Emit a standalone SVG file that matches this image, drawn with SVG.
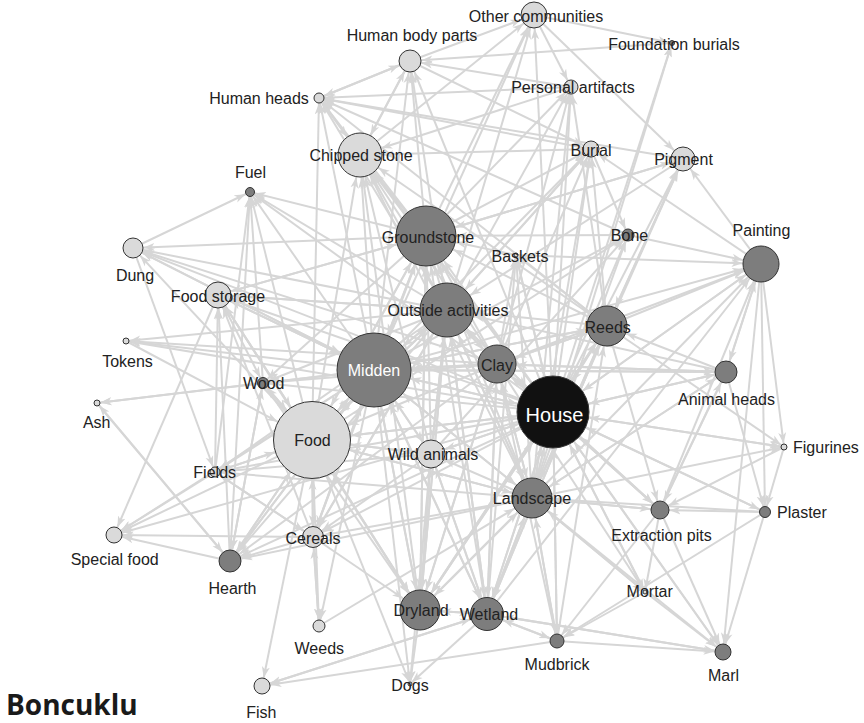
<svg xmlns="http://www.w3.org/2000/svg" width="864" height="723" viewBox="0 0 864 723">
<style>
.e line{stroke:#d6d6d6;stroke-width:2;fill:none}
.mk{fill:#d6d6d6}
.n circle{stroke:#333;stroke-width:1}
.L circle{fill:#dadada}
.D circle{fill:#7d7d7d}
.B circle{fill:#111}
text{font-family:"Liberation Sans",Arial,sans-serif;font-size:16px;fill:#222;text-anchor:middle}
.w{fill:#fff}
.st{text-anchor:start}
</style>
<defs>
<path id="ah" class="mk" d="M0,0.5L11,4.5L0,8.5L3,4.5z"/>
<marker id="tOC" markerUnits="userSpaceOnUse" markerWidth="11" markerHeight="9" refX="24.5" refY="4.5" orient="auto"><use href="#ah"/></marker>
<marker id="tHBP" markerUnits="userSpaceOnUse" markerWidth="11" markerHeight="9" refX="22.5" refY="4.5" orient="auto"><use href="#ah"/></marker>
<marker id="tHH" markerUnits="userSpaceOnUse" markerWidth="11" markerHeight="9" refX="16.5" refY="4.5" orient="auto"><use href="#ah"/></marker>
<marker id="tFB" markerUnits="userSpaceOnUse" markerWidth="11" markerHeight="9" refX="14" refY="4.5" orient="auto"><use href="#ah"/></marker>
<marker id="tPA" markerUnits="userSpaceOnUse" markerWidth="11" markerHeight="9" refX="18.5" refY="4.5" orient="auto"><use href="#ah"/></marker>
<marker id="tCS" markerUnits="userSpaceOnUse" markerWidth="11" markerHeight="9" refX="33.5" refY="4.5" orient="auto"><use href="#ah"/></marker>
<marker id="tBU" markerUnits="userSpaceOnUse" markerWidth="11" markerHeight="9" refX="19.5" refY="4.5" orient="auto"><use href="#ah"/></marker>
<marker id="tPI" markerUnits="userSpaceOnUse" markerWidth="11" markerHeight="9" refX="23.5" refY="4.5" orient="auto"><use href="#ah"/></marker>
<marker id="tFU" markerUnits="userSpaceOnUse" markerWidth="11" markerHeight="9" refX="16" refY="4.5" orient="auto"><use href="#ah"/></marker>
<marker id="tGS" markerUnits="userSpaceOnUse" markerWidth="11" markerHeight="9" refX="41.5" refY="4.5" orient="auto"><use href="#ah"/></marker>
<marker id="tBO" markerUnits="userSpaceOnUse" markerWidth="11" markerHeight="9" refX="17.5" refY="4.5" orient="auto"><use href="#ah"/></marker>
<marker id="tBA" markerUnits="userSpaceOnUse" markerWidth="11" markerHeight="9" refX="13.5" refY="4.5" orient="auto"><use href="#ah"/></marker>
<marker id="tPT" markerUnits="userSpaceOnUse" markerWidth="11" markerHeight="9" refX="29.5" refY="4.5" orient="auto"><use href="#ah"/></marker>
<marker id="tDU" markerUnits="userSpaceOnUse" markerWidth="11" markerHeight="9" refX="21.5" refY="4.5" orient="auto"><use href="#ah"/></marker>
<marker id="tFS" markerUnits="userSpaceOnUse" markerWidth="11" markerHeight="9" refX="24.5" refY="4.5" orient="auto"><use href="#ah"/></marker>
<marker id="tOA" markerUnits="userSpaceOnUse" markerWidth="11" markerHeight="9" refX="38.5" refY="4.5" orient="auto"><use href="#ah"/></marker>
<marker id="tRE" markerUnits="userSpaceOnUse" markerWidth="11" markerHeight="9" refX="31.5" refY="4.5" orient="auto"><use href="#ah"/></marker>
<marker id="tTO" markerUnits="userSpaceOnUse" markerWidth="11" markerHeight="9" refX="14.5" refY="4.5" orient="auto"><use href="#ah"/></marker>
<marker id="tMI" markerUnits="userSpaceOnUse" markerWidth="11" markerHeight="9" refX="48.5" refY="4.5" orient="auto"><use href="#ah"/></marker>
<marker id="tCL" markerUnits="userSpaceOnUse" markerWidth="11" markerHeight="9" refX="30.5" refY="4.5" orient="auto"><use href="#ah"/></marker>
<marker id="tWO" markerUnits="userSpaceOnUse" markerWidth="11" markerHeight="9" refX="17" refY="4.5" orient="auto"><use href="#ah"/></marker>
<marker id="tAH" markerUnits="userSpaceOnUse" markerWidth="11" markerHeight="9" refX="22.5" refY="4.5" orient="auto"><use href="#ah"/></marker>
<marker id="tAS" markerUnits="userSpaceOnUse" markerWidth="11" markerHeight="9" refX="14.5" refY="4.5" orient="auto"><use href="#ah"/></marker>
<marker id="tHO" markerUnits="userSpaceOnUse" markerWidth="11" markerHeight="9" refX="47.5" refY="4.5" orient="auto"><use href="#ah"/></marker>
<marker id="tFO" markerUnits="userSpaceOnUse" markerWidth="11" markerHeight="9" refX="50" refY="4.5" orient="auto"><use href="#ah"/></marker>
<marker id="tWA" markerUnits="userSpaceOnUse" markerWidth="11" markerHeight="9" refX="25.5" refY="4.5" orient="auto"><use href="#ah"/></marker>
<marker id="tFI" markerUnits="userSpaceOnUse" markerWidth="11" markerHeight="9" refX="16.5" refY="4.5" orient="auto"><use href="#ah"/></marker>
<marker id="tFG" markerUnits="userSpaceOnUse" markerWidth="11" markerHeight="9" refX="14.5" refY="4.5" orient="auto"><use href="#ah"/></marker>
<marker id="tLA" markerUnits="userSpaceOnUse" markerWidth="11" markerHeight="9" refX="31.5" refY="4.5" orient="auto"><use href="#ah"/></marker>
<marker id="tEP" markerUnits="userSpaceOnUse" markerWidth="11" markerHeight="9" refX="20.5" refY="4.5" orient="auto"><use href="#ah"/></marker>
<marker id="tPL" markerUnits="userSpaceOnUse" markerWidth="11" markerHeight="9" refX="17" refY="4.5" orient="auto"><use href="#ah"/></marker>
<marker id="tSF" markerUnits="userSpaceOnUse" markerWidth="11" markerHeight="9" refX="19.5" refY="4.5" orient="auto"><use href="#ah"/></marker>
<marker id="tCE" markerUnits="userSpaceOnUse" markerWidth="11" markerHeight="9" refX="22" refY="4.5" orient="auto"><use href="#ah"/></marker>
<marker id="tHE" markerUnits="userSpaceOnUse" markerWidth="11" markerHeight="9" refX="22.5" refY="4.5" orient="auto"><use href="#ah"/></marker>
<marker id="tMO" markerUnits="userSpaceOnUse" markerWidth="11" markerHeight="9" refX="13.5" refY="4.5" orient="auto"><use href="#ah"/></marker>
<marker id="tDR" markerUnits="userSpaceOnUse" markerWidth="11" markerHeight="9" refX="31.5" refY="4.5" orient="auto"><use href="#ah"/></marker>
<marker id="tWE" markerUnits="userSpaceOnUse" markerWidth="11" markerHeight="9" refX="28" refY="4.5" orient="auto"><use href="#ah"/></marker>
<marker id="tWD" markerUnits="userSpaceOnUse" markerWidth="11" markerHeight="9" refX="17.5" refY="4.5" orient="auto"><use href="#ah"/></marker>
<marker id="tMU" markerUnits="userSpaceOnUse" markerWidth="11" markerHeight="9" refX="18.5" refY="4.5" orient="auto"><use href="#ah"/></marker>
<marker id="tMA" markerUnits="userSpaceOnUse" markerWidth="11" markerHeight="9" refX="19.5" refY="4.5" orient="auto"><use href="#ah"/></marker>
<marker id="tDO" markerUnits="userSpaceOnUse" markerWidth="11" markerHeight="9" refX="13.5" refY="4.5" orient="auto"><use href="#ah"/></marker>
<marker id="tFH" markerUnits="userSpaceOnUse" markerWidth="11" markerHeight="9" refX="19.5" refY="4.5" orient="auto"><use href="#ah"/></marker>
</defs>
<rect width="864" height="723" fill="#fff"/>
<g id="connectors" class="e">
<g marker-end="url(#tOC)"><line x1="410" y1="61" x2="534" y2="15"/><line x1="360" y1="155" x2="534" y2="15"/><line x1="426" y1="236" x2="534" y2="15"/><line x1="447" y1="310" x2="534" y2="15"/><line x1="553" y1="412" x2="534" y2="15"/><line x1="374" y1="370" x2="534" y2="15"/></g>
<g marker-end="url(#tHBP)"><line x1="319" y1="98" x2="410" y2="61"/><line x1="426" y1="236" x2="410" y2="61"/><line x1="447" y1="310" x2="410" y2="61"/><line x1="374" y1="370" x2="410" y2="61"/><line x1="553" y1="412" x2="410" y2="61"/><line x1="672" y1="43" x2="410" y2="61"/><line x1="571" y1="87" x2="410" y2="61"/><line x1="360" y1="155" x2="410" y2="61"/></g>
<g marker-end="url(#tHH)"><line x1="410" y1="61" x2="319" y2="98"/><line x1="591" y1="149" x2="319" y2="98"/><line x1="571" y1="87" x2="319" y2="98"/><line x1="628" y1="235" x2="319" y2="98"/><line x1="447" y1="310" x2="319" y2="98"/><line x1="426" y1="236" x2="319" y2="98"/><line x1="374" y1="370" x2="319" y2="98"/><line x1="312" y1="440" x2="319" y2="98"/><line x1="553" y1="412" x2="319" y2="98"/><line x1="683" y1="159" x2="319" y2="98"/><line x1="607" y1="326" x2="319" y2="98"/></g>
<g marker-end="url(#tFB)"><line x1="553" y1="412" x2="672" y2="43"/><line x1="532" y1="498" x2="672" y2="43"/><line x1="534" y1="15" x2="672" y2="43"/></g>
<g marker-end="url(#tPA)"><line x1="534" y1="15" x2="571" y2="87"/><line x1="553" y1="412" x2="571" y2="87"/><line x1="426" y1="236" x2="571" y2="87"/><line x1="607" y1="326" x2="571" y2="87"/><line x1="532" y1="498" x2="571" y2="87"/><line x1="497" y1="364" x2="571" y2="87"/><line x1="447" y1="310" x2="571" y2="87"/></g>
<g marker-end="url(#tCS)"><line x1="319" y1="98" x2="360" y2="155"/><line x1="410" y1="61" x2="360" y2="155"/><line x1="591" y1="149" x2="360" y2="155"/><line x1="426" y1="236" x2="360" y2="155"/><line x1="447" y1="310" x2="360" y2="155"/><line x1="374" y1="370" x2="360" y2="155"/><line x1="553" y1="412" x2="360" y2="155"/><line x1="497" y1="364" x2="360" y2="155"/><line x1="431" y1="454" x2="360" y2="155"/><line x1="312" y1="440" x2="360" y2="155"/><line x1="532" y1="498" x2="360" y2="155"/><line x1="607" y1="326" x2="360" y2="155"/><line x1="420" y1="610" x2="360" y2="155"/><line x1="571" y1="87" x2="360" y2="155"/></g>
<g marker-end="url(#tBU)"><line x1="410" y1="61" x2="591" y2="149"/><line x1="553" y1="412" x2="591" y2="149"/><line x1="426" y1="236" x2="591" y2="149"/><line x1="447" y1="310" x2="591" y2="149"/><line x1="374" y1="370" x2="591" y2="149"/><line x1="761" y1="264" x2="591" y2="149"/><line x1="532" y1="498" x2="591" y2="149"/><line x1="497" y1="364" x2="591" y2="149"/><line x1="607" y1="326" x2="591" y2="149"/></g>
<g marker-end="url(#tPI)"><line x1="534" y1="15" x2="683" y2="159"/><line x1="761" y1="264" x2="683" y2="159"/><line x1="426" y1="236" x2="683" y2="159"/><line x1="553" y1="412" x2="683" y2="159"/><line x1="532" y1="498" x2="683" y2="159"/><line x1="607" y1="326" x2="683" y2="159"/></g>
<g marker-end="url(#tFU)"><line x1="133" y1="248" x2="250" y2="192"/><line x1="263" y1="383" x2="250" y2="192"/><line x1="230" y1="561" x2="250" y2="192"/><line x1="312" y1="440" x2="250" y2="192"/><line x1="374" y1="370" x2="250" y2="192"/><line x1="447" y1="310" x2="250" y2="192"/><line x1="426" y1="236" x2="250" y2="192"/><line x1="553" y1="412" x2="250" y2="192"/><line x1="215" y1="472" x2="250" y2="192"/></g>
<g marker-end="url(#tGS)"><line x1="374" y1="370" x2="426" y2="236"/><line x1="447" y1="310" x2="426" y2="236"/><line x1="553" y1="412" x2="426" y2="236"/><line x1="497" y1="364" x2="426" y2="236"/><line x1="312" y1="440" x2="426" y2="236"/><line x1="532" y1="498" x2="426" y2="236"/><line x1="516" y1="255" x2="426" y2="236"/><line x1="607" y1="326" x2="426" y2="236"/><line x1="628" y1="235" x2="426" y2="236"/><line x1="420" y1="610" x2="426" y2="236"/><line x1="431" y1="454" x2="426" y2="236"/><line x1="683" y1="159" x2="426" y2="236"/><line x1="218" y1="295" x2="426" y2="236"/><line x1="313" y1="537" x2="426" y2="236"/><line x1="487" y1="614" x2="426" y2="236"/></g>
<g marker-end="url(#tBO)"><line x1="431" y1="454" x2="628" y2="235"/><line x1="553" y1="412" x2="628" y2="235"/><line x1="532" y1="498" x2="628" y2="235"/><line x1="374" y1="370" x2="628" y2="235"/><line x1="312" y1="440" x2="628" y2="235"/><line x1="591" y1="149" x2="628" y2="235"/></g>
<g marker-end="url(#tBA)"><line x1="607" y1="326" x2="516" y2="255"/><line x1="487" y1="614" x2="516" y2="255"/><line x1="532" y1="498" x2="516" y2="255"/><line x1="553" y1="412" x2="516" y2="255"/><line x1="497" y1="364" x2="516" y2="255"/></g>
<g marker-end="url(#tPT)"><line x1="726" y1="372" x2="761" y2="264"/><line x1="553" y1="412" x2="761" y2="264"/><line x1="607" y1="326" x2="761" y2="264"/><line x1="532" y1="498" x2="761" y2="264"/><line x1="497" y1="364" x2="761" y2="264"/><line x1="660" y1="510" x2="761" y2="264"/><line x1="516" y1="255" x2="761" y2="264"/><line x1="628" y1="235" x2="761" y2="264"/><line x1="374" y1="370" x2="761" y2="264"/><line x1="487" y1="614" x2="761" y2="264"/></g>
<g marker-end="url(#tDU)"><line x1="426" y1="236" x2="133" y2="248"/><line x1="447" y1="310" x2="133" y2="248"/><line x1="374" y1="370" x2="133" y2="248"/><line x1="553" y1="412" x2="133" y2="248"/><line x1="312" y1="440" x2="133" y2="248"/><line x1="497" y1="364" x2="133" y2="248"/></g>
<g marker-end="url(#tFS)"><line x1="312" y1="440" x2="218" y2="295"/><line x1="374" y1="370" x2="218" y2="295"/><line x1="553" y1="412" x2="218" y2="295"/><line x1="313" y1="537" x2="218" y2="295"/><line x1="447" y1="310" x2="218" y2="295"/><line x1="426" y1="236" x2="218" y2="295"/><line x1="215" y1="472" x2="218" y2="295"/><line x1="230" y1="561" x2="218" y2="295"/></g>
<g marker-end="url(#tOA)"><line x1="374" y1="370" x2="447" y2="310"/><line x1="553" y1="412" x2="447" y2="310"/><line x1="497" y1="364" x2="447" y2="310"/><line x1="312" y1="440" x2="447" y2="310"/><line x1="532" y1="498" x2="447" y2="310"/><line x1="607" y1="326" x2="447" y2="310"/><line x1="431" y1="454" x2="447" y2="310"/><line x1="420" y1="610" x2="447" y2="310"/><line x1="487" y1="614" x2="447" y2="310"/><line x1="683" y1="159" x2="447" y2="310"/><line x1="726" y1="372" x2="447" y2="310"/><line x1="591" y1="149" x2="447" y2="310"/><line x1="313" y1="537" x2="447" y2="310"/><line x1="218" y1="295" x2="447" y2="310"/></g>
<g marker-end="url(#tRE)"><line x1="487" y1="614" x2="607" y2="326"/><line x1="532" y1="498" x2="607" y2="326"/><line x1="497" y1="364" x2="607" y2="326"/><line x1="726" y1="372" x2="607" y2="326"/><line x1="553" y1="412" x2="607" y2="326"/><line x1="420" y1="610" x2="607" y2="326"/><line x1="374" y1="370" x2="607" y2="326"/><line x1="683" y1="159" x2="607" y2="326"/><line x1="557" y1="641" x2="607" y2="326"/></g>
<g marker-end="url(#tTO)"><line x1="497" y1="364" x2="126" y2="341"/><line x1="374" y1="370" x2="126" y2="341"/><line x1="553" y1="412" x2="126" y2="341"/><line x1="447" y1="310" x2="126" y2="341"/></g>
<g marker-end="url(#tMI)"><line x1="312" y1="440" x2="374" y2="370"/><line x1="553" y1="412" x2="374" y2="370"/><line x1="497" y1="364" x2="374" y2="370"/><line x1="447" y1="310" x2="374" y2="370"/><line x1="532" y1="498" x2="374" y2="370"/><line x1="431" y1="454" x2="374" y2="370"/><line x1="420" y1="610" x2="374" y2="370"/><line x1="487" y1="614" x2="374" y2="370"/><line x1="426" y1="236" x2="374" y2="370"/><line x1="313" y1="537" x2="374" y2="370"/><line x1="218" y1="295" x2="374" y2="370"/><line x1="133" y1="248" x2="374" y2="370"/><line x1="230" y1="561" x2="374" y2="370"/><line x1="607" y1="326" x2="374" y2="370"/><line x1="726" y1="372" x2="374" y2="370"/></g>
<g marker-end="url(#tCL)"><line x1="532" y1="498" x2="497" y2="364"/><line x1="374" y1="370" x2="497" y2="364"/><line x1="447" y1="310" x2="497" y2="364"/><line x1="420" y1="610" x2="497" y2="364"/><line x1="487" y1="614" x2="497" y2="364"/><line x1="553" y1="412" x2="497" y2="364"/><line x1="607" y1="326" x2="497" y2="364"/><line x1="726" y1="372" x2="497" y2="364"/><line x1="660" y1="510" x2="497" y2="364"/><line x1="557" y1="641" x2="497" y2="364"/></g>
<g marker-end="url(#tWO)"><line x1="374" y1="370" x2="263" y2="383"/><line x1="312" y1="440" x2="263" y2="383"/><line x1="553" y1="412" x2="263" y2="383"/><line x1="447" y1="310" x2="263" y2="383"/><line x1="426" y1="236" x2="263" y2="383"/><line x1="230" y1="561" x2="263" y2="383"/><line x1="218" y1="295" x2="263" y2="383"/><line x1="497" y1="364" x2="263" y2="383"/></g>
<g marker-end="url(#tAH)"><line x1="761" y1="264" x2="726" y2="372"/><line x1="553" y1="412" x2="726" y2="372"/><line x1="374" y1="370" x2="726" y2="372"/><line x1="497" y1="364" x2="726" y2="372"/><line x1="532" y1="498" x2="726" y2="372"/><line x1="660" y1="510" x2="726" y2="372"/></g>
<g marker-end="url(#tAS)"><line x1="263" y1="383" x2="97" y2="403"/><line x1="374" y1="370" x2="97" y2="403"/><line x1="230" y1="561" x2="97" y2="403"/></g>
<g marker-end="url(#tHO)"><line x1="497" y1="364" x2="553" y2="412"/><line x1="532" y1="498" x2="553" y2="412"/><line x1="607" y1="326" x2="553" y2="412"/><line x1="487" y1="614" x2="553" y2="412"/><line x1="420" y1="610" x2="553" y2="412"/><line x1="447" y1="310" x2="553" y2="412"/><line x1="374" y1="370" x2="553" y2="412"/><line x1="660" y1="510" x2="553" y2="412"/><line x1="557" y1="641" x2="553" y2="412"/><line x1="645" y1="592" x2="553" y2="412"/><line x1="765" y1="512" x2="553" y2="412"/><line x1="784" y1="447" x2="553" y2="412"/><line x1="726" y1="372" x2="553" y2="412"/><line x1="761" y1="264" x2="553" y2="412"/><line x1="723" y1="652" x2="553" y2="412"/><line x1="516" y1="255" x2="553" y2="412"/><line x1="312" y1="440" x2="553" y2="412"/><line x1="431" y1="454" x2="553" y2="412"/></g>
<g marker-end="url(#tFO)"><line x1="218" y1="295" x2="312" y2="440"/><line x1="313" y1="537" x2="312" y2="440"/><line x1="215" y1="472" x2="312" y2="440"/><line x1="374" y1="370" x2="312" y2="440"/><line x1="553" y1="412" x2="312" y2="440"/><line x1="431" y1="454" x2="312" y2="440"/><line x1="230" y1="561" x2="312" y2="440"/><line x1="420" y1="610" x2="312" y2="440"/><line x1="447" y1="310" x2="312" y2="440"/><line x1="532" y1="498" x2="312" y2="440"/><line x1="126" y1="341" x2="312" y2="440"/><line x1="263" y1="383" x2="312" y2="440"/><line x1="497" y1="364" x2="312" y2="440"/><line x1="426" y1="236" x2="312" y2="440"/></g>
<g marker-end="url(#tWA)"><line x1="420" y1="610" x2="431" y2="454"/><line x1="487" y1="614" x2="431" y2="454"/><line x1="532" y1="498" x2="431" y2="454"/><line x1="553" y1="412" x2="431" y2="454"/><line x1="374" y1="370" x2="431" y2="454"/><line x1="447" y1="310" x2="431" y2="454"/><line x1="312" y1="440" x2="431" y2="454"/></g>
<g marker-end="url(#tFI)"><line x1="133" y1="248" x2="215" y2="472"/><line x1="312" y1="440" x2="215" y2="472"/><line x1="374" y1="370" x2="215" y2="472"/><line x1="553" y1="412" x2="215" y2="472"/><line x1="532" y1="498" x2="215" y2="472"/><line x1="431" y1="454" x2="215" y2="472"/><line x1="447" y1="310" x2="215" y2="472"/><line x1="313" y1="537" x2="215" y2="472"/></g>
<g marker-end="url(#tFG)"><line x1="761" y1="264" x2="784" y2="447"/><line x1="553" y1="412" x2="784" y2="447"/><line x1="607" y1="326" x2="784" y2="447"/><line x1="532" y1="498" x2="784" y2="447"/></g>
<g marker-end="url(#tLA)"><line x1="553" y1="412" x2="532" y2="498"/><line x1="420" y1="610" x2="532" y2="498"/><line x1="487" y1="614" x2="532" y2="498"/><line x1="374" y1="370" x2="532" y2="498"/><line x1="497" y1="364" x2="532" y2="498"/><line x1="447" y1="310" x2="532" y2="498"/><line x1="607" y1="326" x2="532" y2="498"/><line x1="557" y1="641" x2="532" y2="498"/><line x1="660" y1="510" x2="532" y2="498"/><line x1="319" y1="626" x2="532" y2="498"/><line x1="645" y1="592" x2="532" y2="498"/><line x1="765" y1="512" x2="532" y2="498"/><line x1="312" y1="440" x2="532" y2="498"/><line x1="726" y1="372" x2="532" y2="498"/></g>
<g marker-end="url(#tEP)"><line x1="765" y1="512" x2="660" y2="510"/><line x1="553" y1="412" x2="660" y2="510"/><line x1="784" y1="447" x2="660" y2="510"/><line x1="532" y1="498" x2="660" y2="510"/><line x1="497" y1="364" x2="660" y2="510"/><line x1="726" y1="372" x2="660" y2="510"/><line x1="607" y1="326" x2="660" y2="510"/></g>
<g marker-end="url(#tPL)"><line x1="761" y1="264" x2="765" y2="512"/><line x1="726" y1="372" x2="765" y2="512"/><line x1="784" y1="447" x2="765" y2="512"/><line x1="553" y1="412" x2="765" y2="512"/></g>
<g marker-end="url(#tSF)"><line x1="218" y1="295" x2="114" y2="535"/><line x1="230" y1="561" x2="114" y2="535"/><line x1="312" y1="440" x2="114" y2="535"/><line x1="374" y1="370" x2="114" y2="535"/><line x1="313" y1="537" x2="114" y2="535"/><line x1="215" y1="472" x2="114" y2="535"/><line x1="553" y1="412" x2="114" y2="535"/></g>
<g marker-end="url(#tCE)"><line x1="312" y1="440" x2="313" y2="537"/><line x1="319" y1="626" x2="313" y2="537"/><line x1="215" y1="472" x2="313" y2="537"/><line x1="374" y1="370" x2="313" y2="537"/><line x1="553" y1="412" x2="313" y2="537"/><line x1="532" y1="498" x2="313" y2="537"/><line x1="447" y1="310" x2="313" y2="537"/><line x1="431" y1="454" x2="313" y2="537"/></g>
<g marker-end="url(#tHE)"><line x1="312" y1="440" x2="230" y2="561"/><line x1="374" y1="370" x2="230" y2="561"/><line x1="553" y1="412" x2="230" y2="561"/><line x1="313" y1="537" x2="230" y2="561"/><line x1="263" y1="383" x2="230" y2="561"/><line x1="532" y1="498" x2="230" y2="561"/><line x1="447" y1="310" x2="230" y2="561"/><line x1="497" y1="364" x2="230" y2="561"/><line x1="97" y1="403" x2="230" y2="561"/></g>
<g marker-end="url(#tMO)"><line x1="553" y1="412" x2="645" y2="592"/><line x1="532" y1="498" x2="645" y2="592"/><line x1="660" y1="510" x2="645" y2="592"/><line x1="497" y1="364" x2="645" y2="592"/></g>
<g marker-end="url(#tDR)"><line x1="312" y1="440" x2="420" y2="610"/><line x1="374" y1="370" x2="420" y2="610"/><line x1="447" y1="310" x2="420" y2="610"/><line x1="426" y1="236" x2="420" y2="610"/><line x1="553" y1="412" x2="420" y2="610"/><line x1="532" y1="498" x2="420" y2="610"/><line x1="497" y1="364" x2="420" y2="610"/><line x1="431" y1="454" x2="420" y2="610"/><line x1="313" y1="537" x2="420" y2="610"/><line x1="218" y1="295" x2="420" y2="610"/><line x1="263" y1="383" x2="420" y2="610"/><line x1="487" y1="614" x2="420" y2="610"/><line x1="607" y1="326" x2="420" y2="610"/></g>
<g marker-end="url(#tWE)"><line x1="532" y1="498" x2="487" y2="614"/><line x1="553" y1="412" x2="487" y2="614"/><line x1="607" y1="326" x2="487" y2="614"/><line x1="497" y1="364" x2="487" y2="614"/><line x1="374" y1="370" x2="487" y2="614"/><line x1="447" y1="310" x2="487" y2="614"/><line x1="420" y1="610" x2="487" y2="614"/><line x1="557" y1="641" x2="487" y2="614"/><line x1="431" y1="454" x2="487" y2="614"/><line x1="262" y1="686" x2="487" y2="614"/><line x1="723" y1="652" x2="487" y2="614"/></g>
<g marker-end="url(#tWD)"><line x1="313" y1="537" x2="319" y2="626"/><line x1="312" y1="440" x2="319" y2="626"/><line x1="374" y1="370" x2="319" y2="626"/></g>
<g marker-end="url(#tMU)"><line x1="487" y1="614" x2="557" y2="641"/><line x1="645" y1="592" x2="557" y2="641"/><line x1="765" y1="512" x2="557" y2="641"/><line x1="553" y1="412" x2="557" y2="641"/><line x1="532" y1="498" x2="557" y2="641"/><line x1="660" y1="510" x2="557" y2="641"/></g>
<g marker-end="url(#tMA)"><line x1="660" y1="510" x2="723" y2="652"/><line x1="765" y1="512" x2="723" y2="652"/><line x1="553" y1="412" x2="723" y2="652"/><line x1="532" y1="498" x2="723" y2="652"/><line x1="645" y1="592" x2="723" y2="652"/><line x1="557" y1="641" x2="723" y2="652"/><line x1="761" y1="264" x2="723" y2="652"/><line x1="487" y1="614" x2="723" y2="652"/></g>
<g marker-end="url(#tDO)"><line x1="420" y1="610" x2="410" y2="684"/><line x1="487" y1="614" x2="410" y2="684"/><line x1="312" y1="440" x2="410" y2="684"/><line x1="374" y1="370" x2="410" y2="684"/><line x1="431" y1="454" x2="410" y2="684"/></g>
<g marker-end="url(#tFH)"><line x1="312" y1="440" x2="262" y2="686"/><line x1="487" y1="614" x2="262" y2="686"/><line x1="557" y1="641" x2="262" y2="686"/></g>
</g>
<g id="nodes">
<g id="n-other-communities" class="n L"><circle cx="534" cy="15" r="13"/><text x="536" y="21.5">Other communities</text></g>
<g id="n-human-body-parts" class="n L"><circle cx="410" cy="61" r="11"/><text x="412" y="40.5">Human body parts</text></g>
<g id="n-human-heads" class="n L"><circle cx="319" cy="98" r="5"/><text x="259" y="103.5">Human heads</text></g>
<g id="n-foundation-burials" class="n D"><circle cx="672" cy="43" r="2.5"/><text x="674" y="49.5">Foundation burials</text></g>
<g id="n-personal-artifacts" class="n L"><circle cx="571" cy="87" r="7"/><text x="573" y="93">Personal artifacts</text></g>
<g id="n-chipped-stone" class="n L"><circle cx="360" cy="155" r="22"/><text x="361" y="161">Chipped stone</text></g>
<g id="n-burial" class="n L"><circle cx="591" cy="149" r="8"/><text x="591" y="155.5">Burial</text></g>
<g id="n-pigment" class="n L"><circle cx="683" cy="159" r="12"/><text x="683.5" y="165">Pigment</text></g>
<g id="n-fuel" class="n D"><circle cx="250" cy="192" r="4.5"/><text x="250.5" y="178">Fuel</text></g>
<g id="n-groundstone" class="n D"><circle cx="426" cy="236" r="30"/><text x="428" y="243">Groundstone</text></g>
<g id="n-bone" class="n D"><circle cx="628" cy="235" r="6"/><text x="629.5" y="241">Bone</text></g>
<g id="n-baskets" class="n L"><circle cx="516" cy="255" r="2"/><text x="520" y="261.5">Baskets</text></g>
<g id="n-painting" class="n D"><circle cx="761" cy="264" r="18"/><text x="761.5" y="236">Painting</text></g>
<g id="n-dung" class="n L"><circle cx="133" cy="248" r="10"/><text x="135" y="281">Dung</text></g>
<g id="n-food-storage" class="n L"><circle cx="218" cy="295" r="13"/><text x="218" y="301.5">Food storage</text></g>
<g id="n-outside-activities" class="n D"><circle cx="447" cy="310" r="27"/><text x="448" y="316">Outside activities</text></g>
<g id="n-reeds" class="n D"><circle cx="607" cy="326" r="20"/><text x="607.7" y="332.5">Reeds</text></g>
<g id="n-tokens" class="n L"><circle cx="126" cy="341" r="3"/><text x="127.5" y="366.5">Tokens</text></g>
<g id="n-midden" class="n D"><circle cx="374" cy="370" r="37"/><text class="w" x="374" y="375.5">Midden</text></g>
<g id="n-clay" class="n D"><circle cx="497" cy="364" r="19"/><text x="497" y="370.5">Clay</text></g>
<g id="n-wood" class="n D"><circle cx="263" cy="383" r="5.5"/><text x="263.7" y="389">Wood</text></g>
<g id="n-animal-heads" class="n D"><circle cx="726" cy="372" r="11"/><text x="726.5" y="405">Animal heads</text></g>
<g id="n-ash" class="n L"><circle cx="97" cy="403" r="3"/><text x="96.7" y="428">Ash</text></g>
<g id="n-house" class="n B"><circle cx="553" cy="412" r="36"/><text class="w" x="554.5" y="421.5" style="font-size:20px">House</text></g>
<g id="n-food" class="n L"><circle cx="312" cy="440" r="38.5"/><text x="312.5" y="445.5">Food</text></g>
<g id="n-wild-animals" class="n L"><circle cx="431" cy="454" r="14"/><text x="433" y="460">Wild animals</text></g>
<g id="n-fields" class="n L"><circle cx="215" cy="472" r="5"/><text x="214.7" y="478">Fields</text></g>
<g id="n-figurines" class="n L"><circle cx="784" cy="447" r="3"/><text class="st" x="793" y="453">Figurines</text></g>
<g id="n-landscape" class="n D"><circle cx="532" cy="498" r="20"/><text x="532" y="504">Landscape</text></g>
<g id="n-extraction-pits" class="n D"><circle cx="660" cy="510" r="9"/><text x="661.5" y="541">Extraction pits</text></g>
<g id="n-plaster" class="n D"><circle cx="765" cy="512" r="5.5"/><text class="st" x="777" y="518">Plaster</text></g>
<g id="n-special-food" class="n L"><circle cx="114" cy="535" r="8"/><text x="114.7" y="565">Special food</text></g>
<g id="n-cereals" class="n L"><circle cx="313" cy="537" r="10.5"/><text x="313" y="544">Cereals</text></g>
<g id="n-hearth" class="n D"><circle cx="230" cy="561" r="11"/><text x="232.5" y="594">Hearth</text></g>
<g id="n-mortar" class="n L"><circle cx="645" cy="592" r="2"/><text x="649.7" y="596.5">Mortar</text></g>
<g id="n-dryland" class="n D"><circle cx="420" cy="610" r="20"/><text x="421" y="616">Dryland</text></g>
<g id="n-wetland" class="n D"><circle cx="487" cy="614" r="16.5"/><text x="489" y="620">Wetland</text></g>
<g id="n-weeds" class="n L"><circle cx="319" cy="626" r="6"/><text x="319.3" y="654">Weeds</text></g>
<g id="n-mudbrick" class="n D"><circle cx="557" cy="641" r="7"/><text x="557" y="670">Mudbrick</text></g>
<g id="n-marl" class="n D"><circle cx="723" cy="652" r="8"/><text x="723.5" y="681">Marl</text></g>
<g id="n-dogs" class="n L"><circle cx="410" cy="684" r="2"/><text x="410" y="691">Dogs</text></g>
<g id="n-fish" class="n L"><circle cx="262" cy="686" r="8"/><text x="261.3" y="717.5">Fish</text></g>
</g>
<text x="6" y="715" style="font-family:'Open Sans','Noto Sans',sans-serif;font-weight:bold;font-size:28px;text-anchor:start;fill:#1a1a1a">Boncuklu</text>
</svg>
